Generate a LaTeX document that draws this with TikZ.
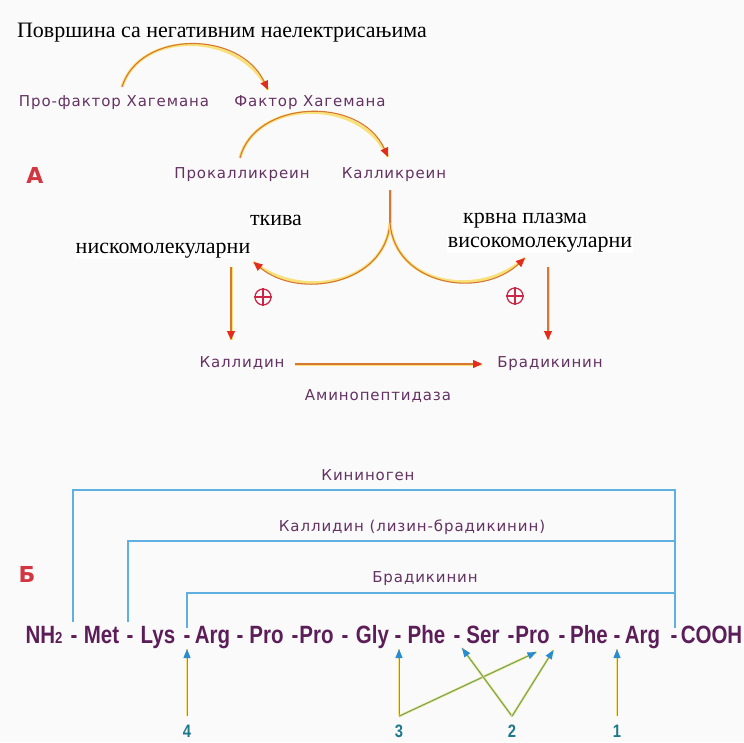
\documentclass[tikz,border=0pt]{standalone}
\usepackage{fontspec}
\setmainfont{Liberation Serif}
\newfontfamily\labfont[LetterSpace=6]{DejaVu Sans}
\newfontfamily\hdfont{DejaVu Sans}
\newfontfamily\seqfont[FakeStretch=0.82]{Liberation Sans}
\usetikzlibrary{arrows.meta,calc}
\definecolor{labc}{RGB}{100,50,98}
\definecolor{seqc}{RGB}{92,30,88}
\definecolor{redA}{RGB}{210,55,65}
\definecolor{arrc}{RGB}{214,120,50}
\definecolor{glowc}{RGB}{248,225,120}
\definecolor{tipred}{RGB}{226,45,30}
\definecolor{boxc}{RGB}{95,175,225}
\definecolor{numc}{RGB}{30,120,140}
\definecolor{grnc}{RGB}{100,165,110}
\definecolor{bluc}{RGB}{40,140,205}
\definecolor{plusc}{RGB}{200,40,70}
\definecolor{bgc}{RGB}{251,250,251}
\begin{document}
\begin{tikzpicture}[x=1pt,y=-1pt,
  lab/.style={font=\labfont\fontsize{15}{15}\selectfont, text=labc, inner sep=0pt, anchor=base},
  ser/.style={font=\fontsize{22}{22}\selectfont, text=black, fill=white, inner sep=1pt, anchor=base},
  redlet/.style={font=\hdfont\bfseries\fontsize{22}{22}\selectfont, text=redA, inner sep=0pt, anchor=base},
  seq/.style={font=\seqfont\bfseries\fontsize{25}{25}\selectfont, text=seqc, inner sep=0pt, anchor=base},
  num/.style={font=\seqfont\bfseries\fontsize{18}{18}\selectfont, text=numc, inner sep=0pt, anchor=base},
  flow/.style={draw=arrc, line width=1.1pt, -{Triangle[length=9pt,width=8pt,color=tipred]}, preaction={draw=glowc, line width=3pt, -}},
  flowline/.style={draw=arrc, line width=1.1pt, preaction={draw=glowc, line width=3pt}},
  pluscirc/.style={circle, draw=plusc, line width=1.3pt, minimum size=16pt, inner sep=0pt},
  boxline/.style={draw=boxc, line width=1.4pt},
  cut/.style={draw=grnc, line width=1pt, -{Triangle[length=9pt,width=7pt,color=bluc]}, preaction={draw=glowc, line width=2.4pt, -}}
]
\fill[bgc] (0,0) rectangle (744,742);
\useasboundingbox (0,0) rectangle (744,742);

% ---------- Part A ----------
\node[ser, fill=none] (title) at (222,37) {Површина са негативним наелектрисањима};
\node[lab] (pfx) at (114,106) {Про-фактор Хагемана};
\node[lab] (fx) at (310,106) {Фактор Хагемана};
\node[lab] (pk) at (242,178) {Прокалликреин};
\node[lab] (k) at (394,178) {Калликреин};
\node[redlet] (A) at (35,183) {А};
\node[ser] (tk) at (276,225) {ткива};
\node[ser] (nm) at (163,253) {нискомолекуларни};
\node[ser] (kp) at (525,223) {крвна плазма};
\node[ser] (vm) at (540,247) {високомолекуларни};
\node[lab] (kd) at (242,367) {Каллидин};
\node[lab] (bk) at (550,367) {Брадикинин};
\node[lab] (ap) at (378,400) {Аминопептидаза};

\draw[flow] ($(pfx.north)+(8,-8)$) .. controls +(18,-57) and +(-28,-60) .. ($(fx.north)+(-42,-5)$);
\draw[flow] ($(pk.north)+(-2,-9)$) .. controls +(15,-58) and +(-28,-62) .. ($(k.north)+(-6,-10)$);

\coordinate (sp) at ($(k.base)+(-4,45)$);
\draw[flowline] ($(k.base)+(-4,12)$) -- (sp);
\draw[flow] (sp) .. controls +(-5,62) and +(45,38) .. ($(nm.south east)+(2,3)$);
\draw[flow] (sp) .. controls +(5,62) and +(-45,42) .. ($(vm.south)+(-15,5)$);

\node[pluscirc] (p1) at (263,297) {};
\node[pluscirc] (p2) at (515,296) {};
\draw[plusc, line width=1.3pt] (p1.north) -- (p1.south) (p1.west) -- (p1.east);
\draw[plusc, line width=1.3pt] (p2.north) -- (p2.south) (p2.west) -- (p2.east);

\draw[flow] ($(kd.base)+(-11,-100)$) -- ($(kd.base)+(-11,-27)$);
\draw[flow] ($(bk.base)+(-2,-100)$) -- ($(bk.base)+(-2,-27)$);
\draw[flow] ($(kd.base east)+(10,-3)$) -- ($(bk.base west)+(-15,-3)$);

% ---------- Part B ----------
\node[redlet] (B) at (27,582) {Б};
\node[lab] (kin) at (368,480) {Кининоген};
\node[lab] (kal) at (412,531) {Каллидин (лизин-брадикинин)};
\node[lab] (brd) at (425,582) {Брадикинин};

\node[seq] (nh) at (44,643) {NH{\fontsize{16}{16}\selectfont 2}};
\node[seq] (d1) at (74,643) {-};
\node[seq] (met) at (101.5,643) {Met};
\node[seq] (d2) at (130,643) {-};
\node[seq] (lys) at (158,643) {Lys};
\node[seq] (d3) at (187,643) {-};
\node[seq] (arg1) at (212.5,643) {Arg};
\node[seq] (d4) at (240,643) {-};
\node[seq] (pro1) at (266.5,643) {Pro};
\node[seq] (d5) at (295,643) {-};
\node[seq] (pro2) at (316.5,643) {Pro};
\node[seq] (d6) at (345,643) {-};
\node[seq] (gly) at (372.5,643) {Gly};
\node[seq] (d7) at (398,643) {-};
\node[seq] (phe1) at (426.5,643) {Phe};
\node[seq] (d8) at (457,643) {-};
\node[seq] (ser) at (483,643) {Ser};
\node[seq] (d9) at (511,643) {-};
\node[seq] (pro3) at (532.5,643) {Pro};
\node[seq] (d10) at (562,643) {-};
\node[seq] (phe2) at (589,643) {Phe};
\node[seq] (d11) at (617,643) {-};
\node[seq] (arg2) at (642.5,643) {Arg};
\node[seq] (d12) at (674,643) {-};
\node[seq] (cooh) at (711.5,643) {COOH};

\draw[boxline] ($(d1.base)+(-1,-21)$) |- ($(d12.base)+(1,-153)$) -- ($(d12.base)+(1,-15)$);
\draw[boxline] ($(d2.base)+(-2,-21)$) |- ($(d12.base)+(1,-102)$);
\draw[boxline] ($(d3.base)+(0,-15)$) |- ($(d12.base)+(1,-50)$);

\node[num] (n4) at (187,737) {4};
\node[num] (n3) at (399,737) {3};
\node[num] (n2) at (512,737) {2};
\node[num] (n1) at (617,737) {1};

\draw[cut] ($(n4.north)+(0,-8)$) -- ($(d3.base)+(0,6)$);
\draw[cut] ($(n3.north)+(0,-8)$) -- ($(d7.base)+(1,6)$);
\draw[cut] ($(n3.north)+(0,-8)$) -- ($(pro3.base)+(4,9)$);
\draw[cut] ($(n2.north)+(0,-8)$) -- ($(d8.base)+(5,5)$);
\draw[cut] ($(n2.north)+(0,-8)$) -- ($(pro3.base)+(21,7)$);
\draw[cut] ($(n1.north)+(0,-8)$) -- ($(d11.base)+(0,6)$);
\end{tikzpicture}
\end{document}
